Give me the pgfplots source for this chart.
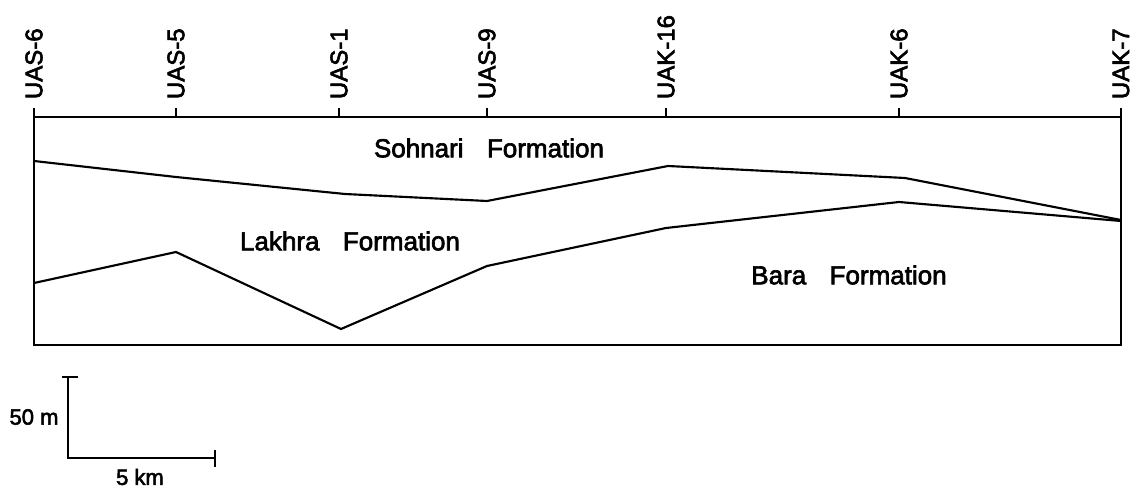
\documentclass[border=0pt]{standalone}
\usepackage{fontspec}
\setmainfont{Liberation Sans}[FakeBold=2.5]
\usepackage{pgfplots}
\pgfplotsset{compat=1.18}
\begin{document}
\begin{tikzpicture}
\useasboundingbox (-25.5pt,-107.25pt) rectangle (824.25pt,258.75pt);
\begin{axis}[
  at={(0pt,0pt)}, anchor=south west,
  scale only axis, width=815.25pt, height=171pt,
  xmin=34, xmax=1121, ymin=117, ymax=345, y dir=reverse,
  axis line style={line width=1.2pt},
  xtick={34,176,339,487,666,899,1121},
  xticklabels={UAS-6,UAS-5,UAS-1,UAS-9,UAK-16,UAK-6,UAK-7},
  xtick pos=right, xticklabel pos=right,
  ytick=\empty,
  tick align=outside, major tick length=6.75pt,
  tick style={line width=1.2pt, black},
  xticklabel style={rotate=90, anchor=west, font=\fontsize{18}{20}\selectfont, inner xsep=6.5pt, inner ysep=1pt},
  clip=false,
]
% base of Sohnari Formation
\addplot[black, line width=1.6pt] coordinates {
  (34,161) (176,177) (345,194) (487,201) (668,166) (905,178) (1121,220)
};
% base of Lakhra Formation
\addplot[black, line width=1.6pt] coordinates {
  (34,283) (176,252) (341,329) (487,266) (666,228) (899,202) (1121,221)
};
\node[font=\fontsize{19.5}{22}\selectfont] at (axis cs:489,148) {Sohnari\hspace{0.9em}Formation};
\node[font=\fontsize{19.5}{22}\selectfont] at (axis cs:350,241) {Lakhra\hspace{0.9em}Formation};
\node[font=\fontsize{19.5}{22}\selectfont] at (axis cs:849,275) {Bara\hspace{0.9em}Formation};
% scale bar
\draw[line width=1.2pt] (axis cs:62,377) -- (axis cs:78,377);
\draw[line width=1.2pt] (axis cs:68,377) -- (axis cs:68,458) -- (axis cs:215,458);
\draw[line width=1.2pt] (axis cs:215,450) -- (axis cs:215,467);
\node[font=\fontsize{16.5}{18}\selectfont] at (axis cs:34,417) {50 m};
\node[font=\fontsize{16.5}{18}\selectfont] at (axis cs:140,477) {5 km};
\end{axis}
\end{tikzpicture}
\end{document}
